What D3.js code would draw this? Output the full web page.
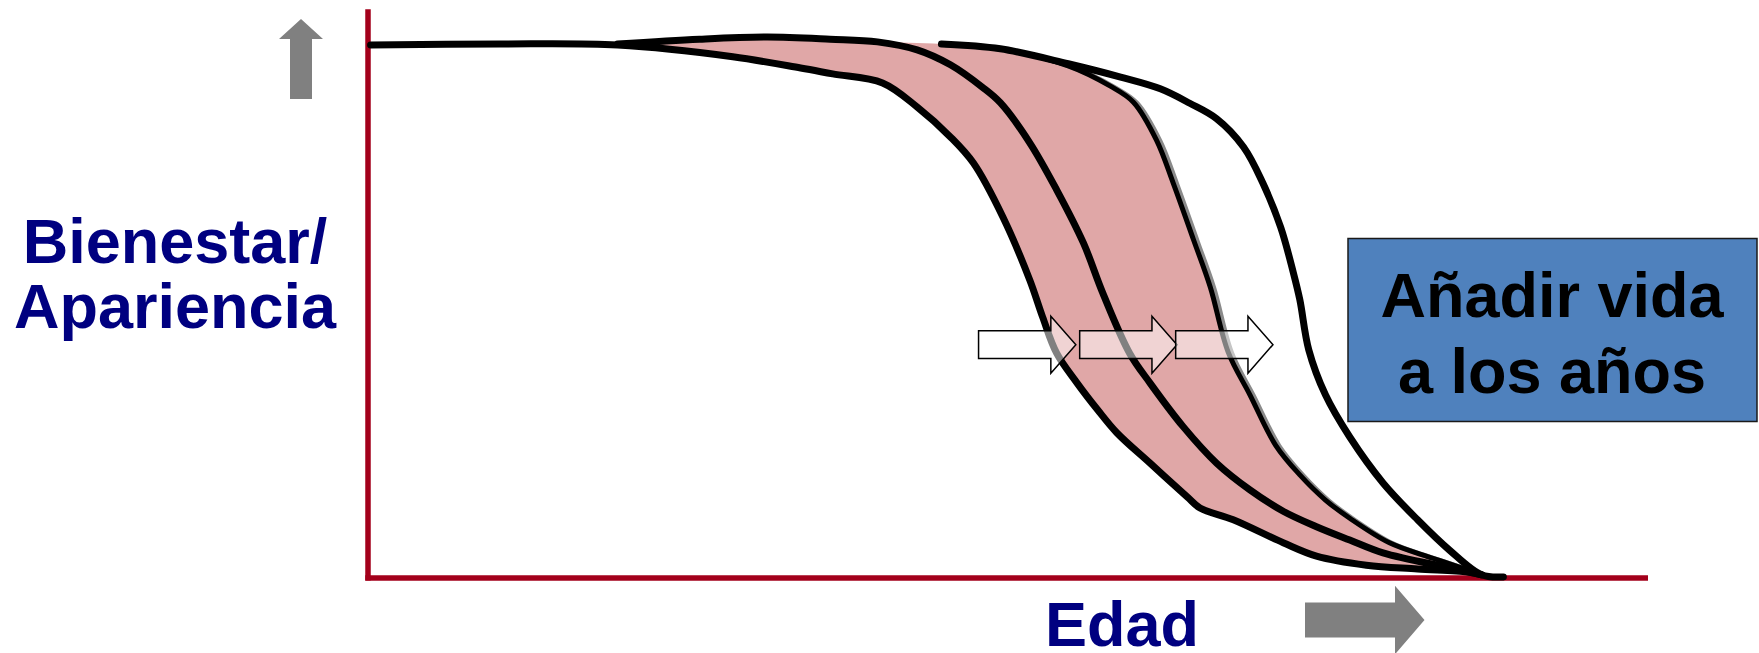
<!DOCTYPE html>
<html>
<head>
<meta charset="utf-8">
<script src="https://cdn.jsdelivr.net/npm/d3@7"></script>
<style>
  body { margin: 0; background: #fff; }
  svg { display: block; font-family: "Liberation Sans", Arial, sans-serif; }
</style>
</head>
<body>
<div class="container"></div>
<script>
// curves: [edad, bienestar] in chart units (0..100)
let curveA = [
  [0.2, 99.8], [10.3, 100], [19.5, 99.8], [28.5, 97.6], [33.8, 95.5], [36.3, 94.4],
  [40.2, 92.7], [42.9, 88.2], [45.5, 82.6], [47.3, 77.7], [49.6, 67.6], [51.7, 55.8],
  [52.7, 48.9], [53.8, 42.1], [55.4, 36.5], [57.0, 31.5], [58.5, 27.2], [61.1, 21.5],
  [64.0, 15.2], [65.0, 13.1], [67.6, 10.9], [71.5, 6.6], [74.1, 4.1], [78.0, 2.4],
  [82.0, 1.7], [85.9, 1.1], [87.0, 0.6]
];
let curveB = [
  [19.5, 100], [25.9, 100.9], [31.2, 101.3], [36.1, 100.9], [39.8, 100.4], [42.9, 98.9],
  [45.5, 96.1], [48.0, 91.9], [49.4, 89.0], [51.7, 81.5], [53.8, 72.7], [55.9, 62.7],
  [57.4, 53.4], [59.5, 42.1], [61.1, 36.5], [63.7, 28.3], [66.3, 21.5], [68.9, 16.5],
  [71.5, 12.5], [74.1, 9.6], [76.7, 7.1], [79.3, 4.7], [84.5, 1.9], [87.0, 0.6]
];
let curveC = [
  [44.8, 100], [49.4, 99.1], [54.7, 95.9], [58.0, 92.1], [59.8, 89.1], [61.6, 82.0],
  [62.9, 74.0], [64.5, 63.3], [65.8, 54.5], [67.2, 42.3], [68.9, 34.3], [70.9, 24.9],
  [72.8, 19.3], [74.8, 14.6], [76.7, 11.2], [79.8, 6.6], [83.2, 3.7], [85.9, 1.5],
  [87.0, 0.6]
];
let curveD = [
  [44.8, 100], [49.4, 99.1], [54.7, 96.3], [58.8, 93.8], [61.9, 91.6], [64.2, 88.9],
  [66.3, 86.0], [68.4, 80.7], [69.9, 74.0], [71.3, 65.7], [72.3, 57.1], [72.8, 52.1],
  [73.5, 42.7], [74.8, 34.3], [76.7, 26.4], [79.3, 17.8], [82.0, 10.9], [84.5, 5.2],
  [87.0, 0.6], [88.7, 0.2]
];
let arrowStarts = [47.7, 55.6, 63.1];
let arrowLevel = 43.7;
let arrowLength = 7.6;

let yLabel = ['Bienestar/', 'Apariencia'];
let xLabel = 'Edad';
let boxLabel = ['Añadir vida', 'a los años'];

let width = 1759;
let height = 653;

let svg = d3
  .select('.container')
  .append('svg')
  .attr('width', width)
  .attr('height', height);

let xScale = d3.scaleLinear().domain([0, 100]).range([368, 1648]);
let yScale = d3.scaleLinear().domain([0, 100]).range([578, 44]);

let line = d3
  .line()
  .x((d) => xScale(d[0]))
  .y((d) => yScale(d[1]))
  .curve(d3.curveCatmullRom.alpha(0.5));

// pink band: lower edge curve A, upper edge arch of B then curve C
let bandTop = curveB.filter((d) => d[0] <= 39.8);
let band = curveA
  .filter((d) => d[0] >= 19.5)
  .concat(curveC.slice().reverse())
  .concat(bandTop.slice().reverse());

svg.append('path')
  .attr('d', line(band) + 'Z')
  .attr('fill', '#e0a7a7');

// axes
svg.append('line')
  .attr('x1', xScale(0)).attr('x2', xScale(0))
  .attr('y1', yScale(106.5)).attr('y2', yScale(0) + 2.5)
  .attr('stroke', '#a3001b').attr('stroke-width', 5.5);
svg.append('line')
  .attr('x1', xScale(0) - 2.7).attr('x2', xScale(100))
  .attr('y1', yScale(0)).attr('y2', yScale(0))
  .attr('stroke', '#a3001b').attr('stroke-width', 5.5);

// curves
svg.append('path')
  .attr('d', line(curveC))
  .attr('transform', 'translate(3.5,1)')
  .attr('fill', 'none').attr('stroke', '#8a8a8a').attr('stroke-width', 5);

[curveA, curveB, curveC, curveD].forEach((c, i) => {
  svg.append('path')
    .attr('d', line(c))
    .attr('fill', 'none')
    .attr('stroke', '#000')
    .attr('stroke-width', i === 2 ? 5 : 7)
    .attr('stroke-linecap', 'round')
    .attr('stroke-linejoin', 'round');
});

// shift arrows
arrowStarts.forEach((s) => {
  let x0 = xScale(s);
  let x2 = xScale(s + arrowLength);
  let x1 = x2 - 25;
  let yc = yScale(arrowLevel);
  let pts = [
    [x0, yc - 13.8], [x1, yc - 13.8], [x1, yc - 28.5], [x2, yc],
    [x1, yc + 28.5], [x1, yc + 13.8], [x0, yc + 13.8]
  ];
  svg.append('polygon')
    .attr('points', pts.map((p) => p.join(',')).join(' '))
    .attr('fill', '#fff').attr('fill-opacity', 0.5)
    .attr('stroke', '#000').attr('stroke-width', 1.5);
});

// gray direction arrows
svg.append('polygon')
  .attr('points', '290,99 290,39 279,39 301,19 323,39 312,39 312,99')
  .attr('fill', '#808080');
svg.append('polygon')
  .attr('points', '1305,602.5 1395,602.5 1395,585.7 1424.5,620 1395,654.3 1395,637.5 1305,637.5')
  .attr('fill', '#808080');

// labels
let yl = svg.append('text')
  .attr('text-anchor', 'middle')
  .attr('font-size', 63).attr('font-weight', 'bold')
  .attr('fill', '#000080');
yLabel.forEach((t, i) => {
  yl.append('tspan').attr('x', 175).attr('y', 263 + i * 65).text(t);
});

svg.append('text')
  .attr('x', 1122).attr('y', 646)
  .attr('text-anchor', 'middle')
  .attr('font-size', 63).attr('font-weight', 'bold')
  .attr('fill', '#000080')
  .text(xLabel);

// blue box
svg.append('rect')
  .attr('x', 1348).attr('y', 238.5)
  .attr('width', 409).attr('height', 183)
  .attr('fill', '#4f81bd')
  .attr('stroke', '#1a1a1a').attr('stroke-width', 1.5);

let bl = svg.append('text')
  .attr('text-anchor', 'middle')
  .attr('font-size', 63).attr('font-weight', 'bold')
  .attr('fill', '#000');
boxLabel.forEach((t, i) => {
  bl.append('tspan').attr('x', 1552).attr('y', 317 + i * 76).text(t);
});
</script>
</body>
</html>
